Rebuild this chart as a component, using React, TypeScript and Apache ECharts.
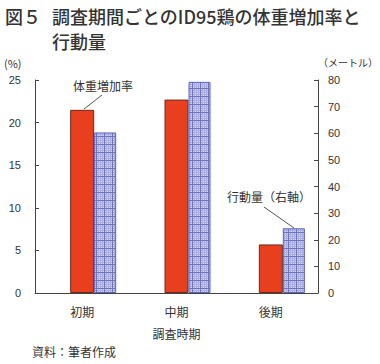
import React, { useEffect, useRef } from "react";
import * as echarts from "echarts";

const categories = ["初期", "中期", "後期"];
const weightGain = [21.5, 22.7, 5.7];
const activity = [60.3, 79.3, 24.3];
const leftTicks = { min: 0, max: 25, interval: 5 };
const rightTicks = { min: 0, max: 80, interval: 10 };

function makePattern() {
  const c = document.createElement("canvas");
  c.width = 8;
  c.height = 8;
  const ctx = c.getContext("2d")!;
  ctx.fillStyle = "#d3d5f3";
  ctx.fillRect(0, 0, 8, 8);
  ctx.fillStyle = "#a9addf";
  for (const p of [2, 4, 6]) {
    ctx.fillRect(p, 0, 1, 8);
    ctx.fillRect(0, p, 8, 1);
  }
  ctx.fillStyle = "#6d73c4";
  ctx.fillRect(0, 0, 1, 8);
  ctx.fillRect(0, 0, 8, 1);
  return c;
}

export default function App() {
  const ref = useRef<HTMLDivElement>(null);
  useEffect(() => {
    const chart = echarts.init(ref.current!, null, { renderer: "svg" });
    const font = "'Noto Sans CJK JP', sans-serif";
    const txt = "#333";
    chart.setOption({
      animation: false,
      textStyle: { fontFamily: font },
      grid: { left: 35, right: 62, top: 80, bottom: 71, containLabel: false },
      xAxis: {
        type: "category",
        data: categories,
        axisLine: { lineStyle: { color: "#444", width: 1 } },
        axisTick: { inside: true, length: 4, lineStyle: { color: "#444" } },
        axisLabel: { color: txt, fontSize: 12, margin: 12, fontFamily: font },
        name: "調査時期",
        nameLocation: "middle",
        nameGap: 34,
        nameTextStyle: { color: txt, fontSize: 12, fontFamily: font },
      },
      yAxis: [
        {
          type: "value",
          ...leftTicks,
          axisLine: { show: true, lineStyle: { color: "#444" } },
          axisTick: { show: true, inside: true, length: 4, lineStyle: { color: "#444" } },
          splitLine: { show: false },
          axisLabel: { color: txt, fontSize: 11, margin: 14, fontFamily: "Arial, 'Liberation Sans', sans-serif" },
        },
        {
          type: "value",
          ...rightTicks,
          position: "right",
          axisLine: { show: true, lineStyle: { color: "#444" } },
          axisTick: { show: true, inside: true, length: 4, lineStyle: { color: "#444" } },
          splitLine: { show: false },
          axisLabel: { color: txt, fontSize: 11, margin: 10, fontFamily: "Arial, 'Liberation Sans', sans-serif" },
        },
      ],
      series: [
        {
          type: "bar",
          yAxisIndex: 0,
          data: categories.map(() => null),
          barWidth: 22,
          barGap: "0%",
          silent: true,
        },
        {
          type: "bar",
          yAxisIndex: 0,
          data: weightGain,
          barWidth: 24,
          barGap: "0%",
          itemStyle: { color: "#e8401e", borderColor: "#6a2a1a", borderWidth: 1 },
        },
        {
          type: "bar",
          yAxisIndex: 1,
          data: activity,
          barWidth: 22,
          barGap: "0%",
          itemStyle: {
            color: { image: makePattern(), repeat: "repeat" },
            borderColor: "#5a62b8",
            borderWidth: 1,
          },
        },
      ],
      graphic: [
        { type: "text", left: 5, top: 7, style: { text: "図５", font: `500 18px ${font}`, fill: "#333" } },
        { type: "text", left: 52, top: 7, style: { text: "調査期間ごとのID95鶏の体重増加率と", font: `500 18px ${font}`, fill: "#333" } },
        { type: "text", left: 52, top: 32, style: { text: "行動量", font: `500 18px ${font}`, fill: "#333" } },
        { type: "text", left: 4, top: 57, style: { text: "(%)", font: `11px ${font}`, fill: txt } },
        { type: "text", left: 318, top: 57, style: { text: "（メートル）", font: `10px ${font}`, fill: txt } },
        { type: "text", left: 73, top: 79, style: { text: "体重増加率", font: `12px ${font}`, fill: txt } },
        { type: "line", shape: { x1: 102, y1: 95, x2: 84, y2: 109 }, style: { stroke: "#555", lineWidth: 1 } },
        { type: "text", left: 227, top: 190, style: { text: "行動量（右軸）", font: `12px ${font}`, fill: txt } },
        { type: "line", shape: { x1: 264, y1: 207, x2: 294, y2: 228 }, style: { stroke: "#555", lineWidth: 1 } },
        { type: "text", left: 32, top: 345, style: { text: "資料：筆者作成", font: `12px ${font}`, fill: txt } },
      ],
    });
    return () => chart.dispose();
  }, []);
  return <div ref={ref} style={{ width: 380, height: 364, position: "absolute", left: 0, top: 0 }} />;
}
